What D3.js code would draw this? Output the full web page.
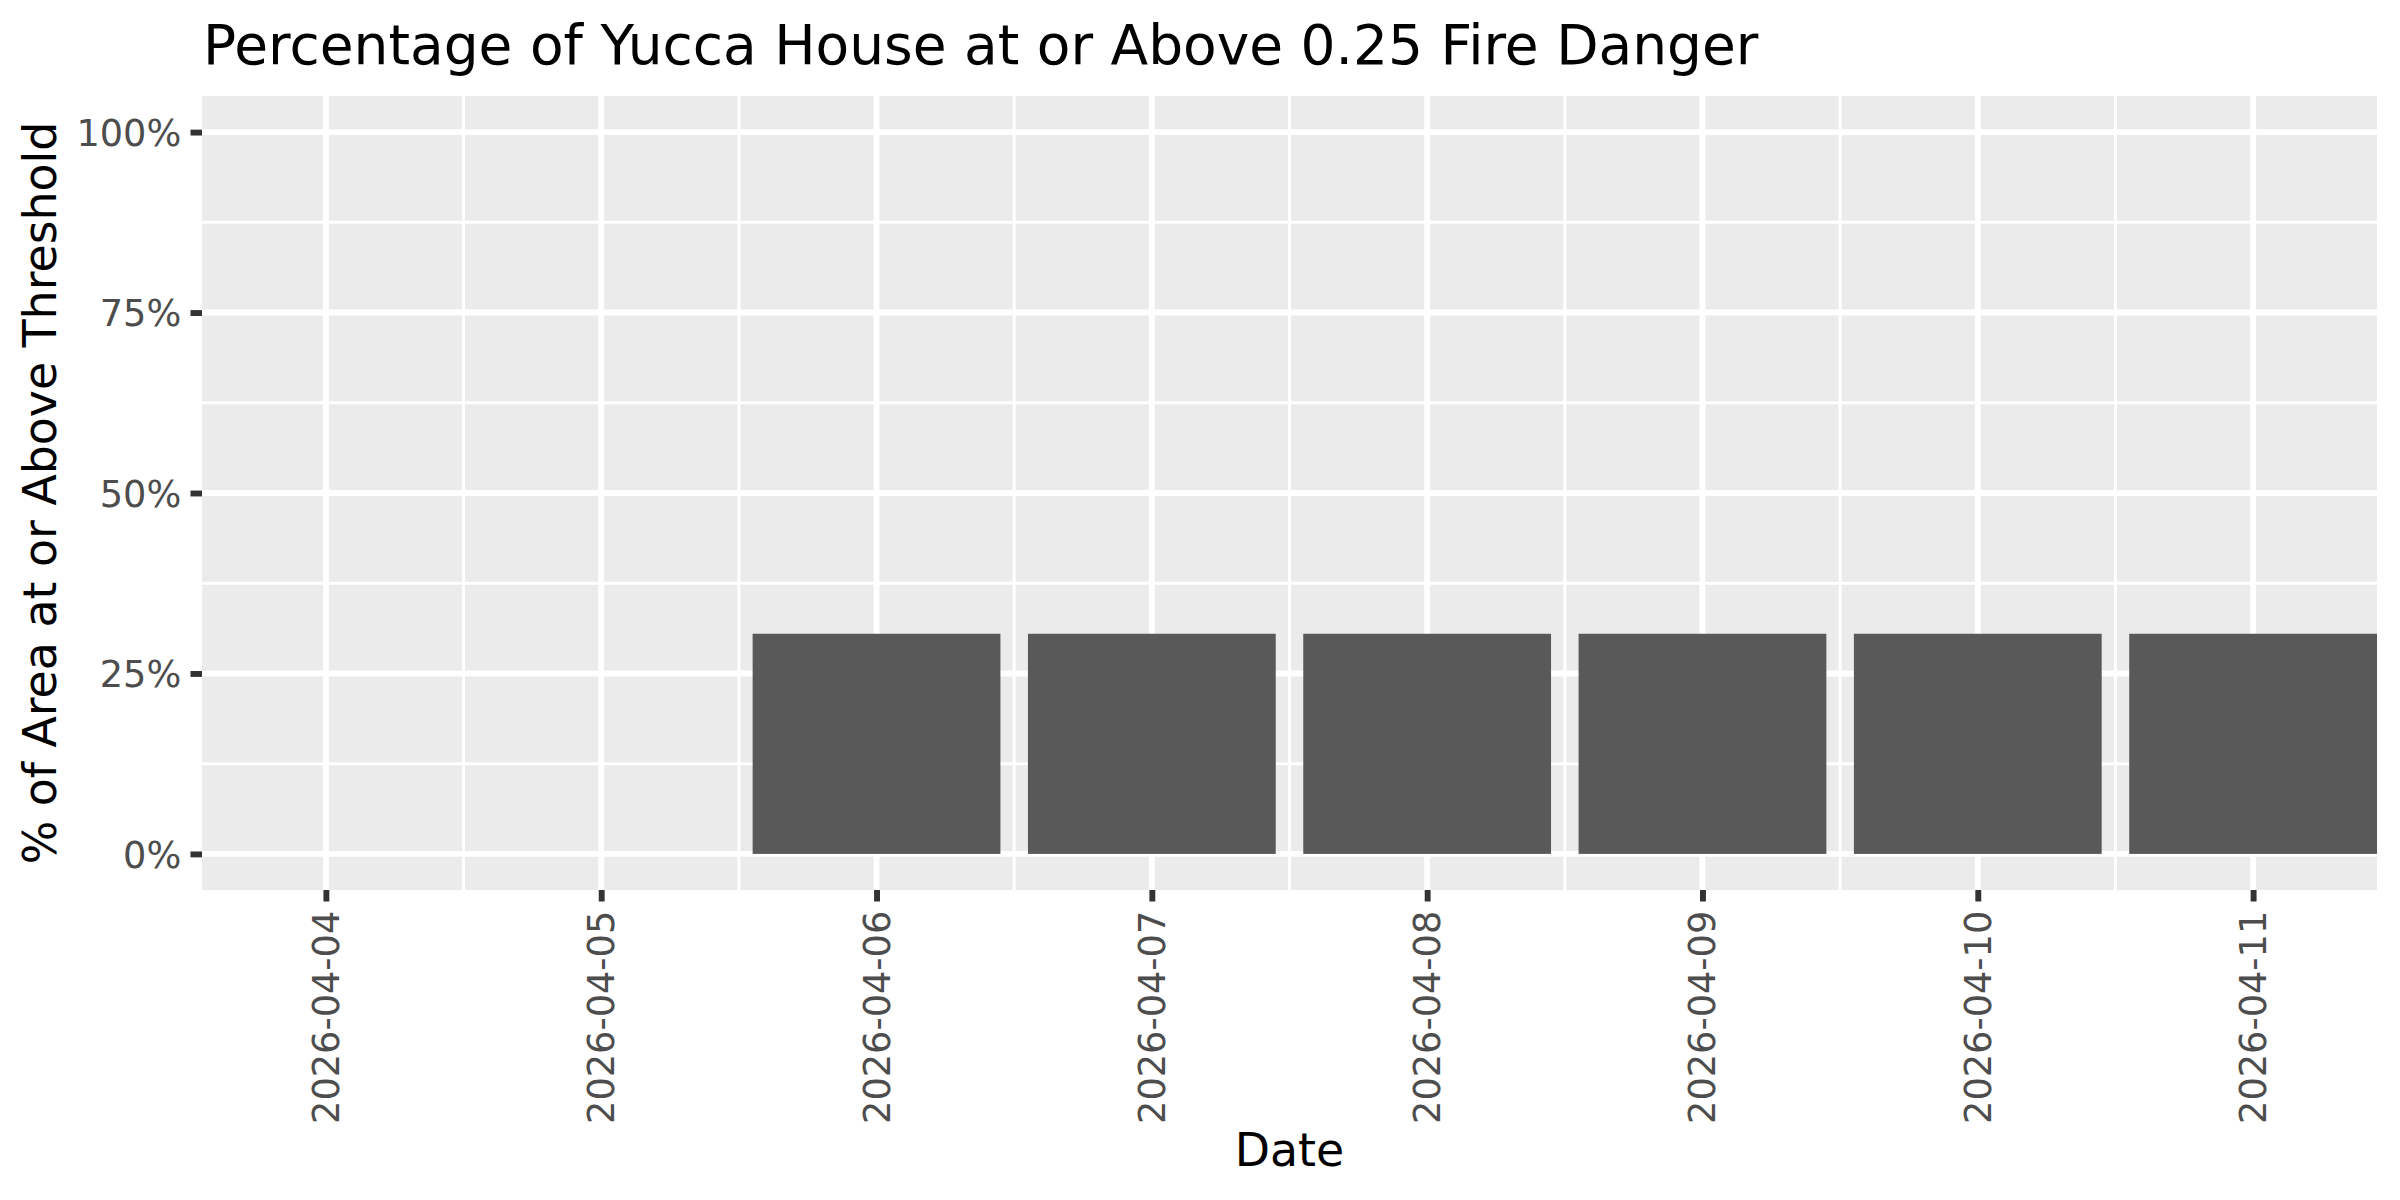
<!DOCTYPE html>
<html>
<head>
<meta charset="utf-8">
<script src="https://cdn.jsdelivr.net/npm/d3@7"></script>
<style>
  html, body { margin: 0; padding: 0; background: #ffffff; }
  svg { display: block; font-family: "DejaVu Sans", sans-serif; }
</style>
</head>
<body>
<div id="chart"></div>
<script>
// ---- data ----
const titleText = "Percentage of Yucca House at or Above 0.25 Fire Danger";
const xTitle = "Date";
const yTitle = "% of Area at or Above Threshold";
const dates = ["2026-04-04", "2026-04-05", "2026-04-06", "2026-04-07", "2026-04-08", "2026-04-09", "2026-04-10", "2026-04-11"];
const values = [0, 0, 30.5, 30.5, 30.5, 30.5, 30.5, 30.5];
const yTicks = [0, 25, 50, 75, 100];
const yMinor = [12.5, 37.5, 62.5, 87.5];

// ---- layout ----
const W = 2400, H = 1200;
const panel = { left: 202, right: 2377, top: 96, bottom: 890 };
const DAY = 86400000;
const parse = d3.utcParse("%Y-%m-%d");
const fmt = d3.utcFormat("%Y-%m-%d");
const dateObjs = dates.map(parse);

const svg = d3.select("#chart").append("svg")
  .attr("width", W).attr("height", H).attr("viewBox", `0 0 ${W} ${H}`);
svg.append("rect").attr("width", W).attr("height", H).attr("fill", "#ffffff");

const x = d3.scaleUtc()
  .domain([new Date(+dateObjs[0] - 0.45 * DAY), new Date(+dateObjs[dateObjs.length - 1] + 0.45 * DAY)])
  .range([panel.left, panel.right]);
const y = d3.scaleLinear().domain([-5, 105]).range([panel.bottom, panel.top]);

// panel background
svg.append("rect")
  .attr("x", panel.left).attr("y", panel.top)
  .attr("width", panel.right - panel.left).attr("height", panel.bottom - panel.top)
  .attr("fill", "#EBEBEB");

const grid = svg.append("g");
// minor grid
const xMinor = dateObjs.slice(0, -1).map(d => new Date(+d + 0.5 * DAY));
grid.selectAll(".ymin").data(yMinor).enter().append("line")
  .attr("x1", panel.left).attr("x2", panel.right)
  .attr("y1", d => y(d)).attr("y2", d => y(d))
  .attr("stroke", "#ffffff").attr("stroke-width", 2.95);
grid.selectAll(".xmin").data(xMinor).enter().append("line")
  .attr("y1", panel.top).attr("y2", panel.bottom)
  .attr("x1", d => x(d)).attr("x2", d => x(d))
  .attr("stroke", "#ffffff").attr("stroke-width", 2.95);
// major grid
grid.selectAll(".ymaj").data(yTicks).enter().append("line")
  .attr("x1", panel.left).attr("x2", panel.right)
  .attr("y1", d => y(d)).attr("y2", d => y(d))
  .attr("stroke", "#ffffff").attr("stroke-width", 5.9);
grid.selectAll(".xmaj").data(dateObjs).enter().append("line")
  .attr("y1", panel.top).attr("y2", panel.bottom)
  .attr("x1", d => x(d)).attr("x2", d => x(d))
  .attr("stroke", "#ffffff").attr("stroke-width", 5.9);

// bars
svg.append("g").selectAll("rect").data(dates).enter().append("rect")
  .attr("x", (d, i) => x(new Date(+dateObjs[i] - 0.45 * DAY)))
  .attr("width", (d, i) => x(new Date(+dateObjs[i] + 0.45 * DAY)) - x(new Date(+dateObjs[i] - 0.45 * DAY)))
  .attr("y", (d, i) => y(values[i]))
  .attr("height", (d, i) => y(0) - y(values[i]))
  .attr("fill", "#595959");

// y axis
const yAxis = d3.axisLeft(y).tickValues(yTicks).tickFormat(d => d + "%").tickSize(11.5).tickPadding(9.2);
const gy = svg.append("g").attr("transform", `translate(${panel.left},0)`).call(yAxis);
gy.select(".domain").remove();
gy.selectAll(".tick line").attr("stroke", "#333333").attr("stroke-width", 5.9);
gy.selectAll(".tick text").attr("fill", "#4D4D4D").attr("font-size", 36.7)
  .attr("font-family", "DejaVu Sans, sans-serif").attr("dy", "0.36em");

// x axis
const xAxis = d3.axisBottom(x).tickValues(dateObjs).tickFormat(fmt).tickSize(11.5).tickPadding(9.2);
const gx = svg.append("g").attr("transform", `translate(0,${panel.bottom})`).call(xAxis);
gx.select(".domain").remove();
gx.selectAll(".tick line").attr("stroke", "#333333").attr("stroke-width", 5.9);
gx.selectAll(".tick text")
  .attr("fill", "#4D4D4D").attr("font-size", 36.7).attr("font-family", "DejaVu Sans, sans-serif")
  .attr("y", 0).attr("dy", null)
  .attr("transform", "translate(0,20.7) rotate(-90)")
  .attr("text-anchor", "end")
  .attr("dominant-baseline", "central");

// titles
svg.append("text").attr("x", 203).attr("y", 64)
  .attr("font-size", 55).attr("fill", "#000000").text(titleText);
svg.append("text").attr("x", (panel.left + panel.right) / 2).attr("y", 1166)
  .attr("text-anchor", "middle").attr("font-size", 45.8).attr("fill", "#000000").text(xTitle);
svg.append("text")
  .attr("transform", `translate(40,${(panel.top + panel.bottom) / 2}) rotate(-90)`)
  .attr("text-anchor", "middle").attr("dominant-baseline", "central")
  .attr("font-size", 45.8).attr("fill", "#000000").text(yTitle);
</script>
</body>
</html>
